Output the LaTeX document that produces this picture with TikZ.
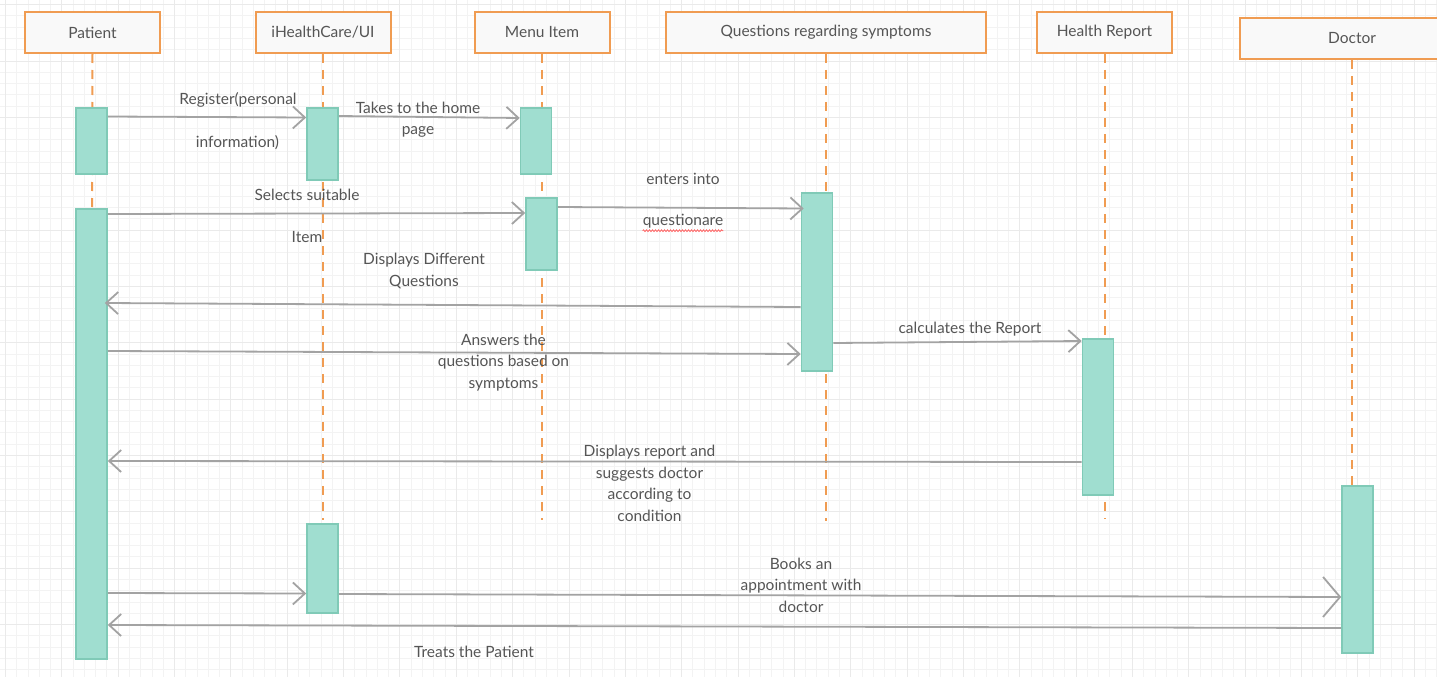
\documentclass[tikz,border=0pt]{standalone}
\usepackage{fontspec}
\setmainfont{Lato}
\usepackage{tikz}
\usetikzlibrary{arrows.meta,decorations.pathmorphing}

\definecolor{lifeorange}{HTML}{F09C52}
\definecolor{headfill}{HTML}{F9F9F9}
\definecolor{actfill}{HTML}{A0DED0}
\definecolor{actdraw}{HTML}{80CAB7}
\definecolor{msggray}{HTML}{A3A3A3}
\definecolor{txtgray}{HTML}{555555}
\definecolor{gridminor}{HTML}{F3F3F3}
\definecolor{gridmajor}{HTML}{EAEAEA}

% activation bar: name, x centre, top, bottom
\newcommand{\actbar}[4]{\node[act,anchor=north,minimum height={(#4-#3)*1pt}] (#1) at (#2,#3) {};}

\begin{document}
\begin{tikzpicture}[
  x=1pt,y=-1pt,
  head/.style={draw=lifeorange,fill=headfill,line width=2pt,minimum width=135pt,
               minimum height=41pt,inner sep=0pt,font=\fontsize{15.5}{18}\selectfont,text=txtgray},
  act/.style={draw=actdraw,fill=actfill,line width=1.6pt,minimum width=31pt,inner sep=0pt},
  life/.style={lifeorange,line width=2pt,dash pattern=on 9pt off 7pt},
  msg/.style={msggray,line width=1.8pt,-{Straight Barb[length=12pt,width=22pt,line width=1.8pt]}},
  lbl/.style={align=center,font=\fontsize{15.5}{21.5}\selectfont,text=txtgray,inner sep=0pt}
]
\useasboundingbox (0,0) rectangle (1437,677);
\clip (0,0) rectangle (1437,677);
\fill[white] (0,0) rectangle (1437,677);
% background grid
\foreach \gx in {5.4,16.67,...,1437} \draw[gridminor,line width=0.8pt] (\gx,0) -- (\gx,677);
\foreach \gy in {4.6,15.87,...,677} \draw[gridminor,line width=0.8pt] (0,\gy) -- (1437,\gy);
\foreach \gx in {5.4,61.75,...,1437} \draw[gridmajor,line width=0.8pt] (\gx,0) -- (\gx,677);
\foreach \gy in {4.6,60.95,...,677} \draw[gridmajor,line width=0.8pt] (0,\gy) -- (1437,\gy);

% participants
\node[head] (patient) at (92.5,32.5) {Patient};
\node[head] (ui) at (323,32.5) {iHealthCare/UI};
\node[head] (menu) at (542,32.5) {Menu Item};
\node[head,minimum width=320pt] (quest) at (826,32.5) {Questions regarding symptoms};
\node[head] (report) at (1104.5,32.5) {Health Report};
\node[head,minimum width=225pt] (doctor) at (1352,38.5) {Doctor};

% lifelines
\coordinate (patientend) at (92,208);
\coordinate (uiend) at (323,520);
\coordinate (menuend) at (542,520);
\coordinate (questend) at (826,521);
\coordinate (reportend) at (1104.5,519);
\coordinate (doctorend) at (1352,485);
\draw[life] (patient.south) -- (patientend);
\draw[life] (ui.south) -- (uiend);
\draw[life] (menu.south) -- (menuend);
\draw[life] (quest.south) -- (questend);
\draw[life] (report.south) -- (reportend);
\draw[life] (doctor.south) -- (doctorend);

% activation bars
\actbar{pa}{91.5}{107}{173}
\actbar{pb}{91.5}{208}{658}
\actbar{ua}{322.5}{107}{179}
\actbar{ub}{322.5}{523}{612}
\actbar{ma}{536}{107}{173}
\actbar{mb}{541.5}{197}{269}
\actbar{qa}{817}{192}{370}
\actbar{ra}{1098}{338}{494}
\actbar{da}{1357.5}{485}{652}

% messages
\draw[msg] (pa.east |- 0,116.5) -- (ua.west |- 0,117.5);
\draw[msg] (ua.east |- 0,116) -- (ma.west |- 0,118);
\draw[msg] (pb.east |- 0,214) -- (mb.west |- 0,213);
\draw[msg] (mb.east |- 0,207) -- ([xshift=3pt]qa.west |- 0,208.5);
\draw[msg] (qa.west |- 0,307) -- ([xshift=-3pt]pb.east |- 0,303);
\draw[msg] (pb.east |- 0,351) -- (qa.west |- 0,354);
\draw[msg] (qa.east |- 0,343) -- (ra.west |- 0,341);
\draw[msg] (ra.west |- 0,462) -- (pb.east |- 0,461);
\draw[msg] (pb.east |- 0,593) -- (ub.west |- 0,593.5);
\draw[msg,-{Straight Barb[length=17pt,width=40pt,line width=1.8pt]}] (ub.east |- 0,594) -- (da.west |- 0,597);
\draw[msg] (da.west |- 0,628) -- (pb.east |- 0,625);

% message labels
\node[lbl] (m1a) at (238,100) {Register(personal};
\node[lbl] (m1b) at (237.5,142.5) {information)};
\node[lbl] (m2) at (418,119.5) {Takes to the home\\page};
\node[lbl] (m3a) at (307,194.5) {Selects suitable};
\node[lbl] (m3b) at (307,237.5) {Item};
\node[lbl] (m4a) at (683,179) {enters into};
\node[lbl] (m4b) at (683,221.5) {questionare};
\draw[red!60,line width=0.8pt,decorate,decoration={snake,amplitude=0.9pt,segment length=3pt,post length=0pt,pre length=0pt}]
  ([yshift=-2pt]m4b.south west) -- ([yshift=-2pt]m4b.south east);
\node[lbl] (m5) at (424,271) {Displays Different\\Questions};
\node[lbl] (m6) at (503.5,362.5) {Answers the\\questions based on\\symptoms};
\node[lbl] (m7) at (970,329) {calculates the Report};
\node[lbl] (m8) at (649.5,483.5) {Displays report and\\suggests doctor\\according to\\condition};
\node[lbl] (m9) at (801,585) {Books an\\appointment with\\doctor};
\node[lbl] (m10) at (474,652) {Treats the Patient};
\end{tikzpicture}
\end{document}
